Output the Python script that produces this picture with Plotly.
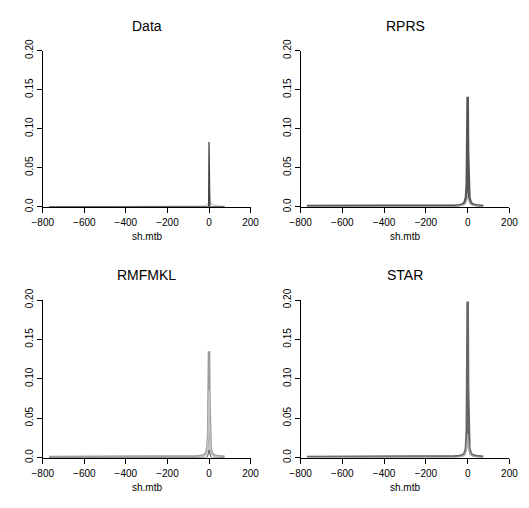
import plotly.graph_objects as go

# Shared horizontal grid (sh.mtb) at which every density curve is sampled
SH_MTB = [-770, -600, -400, -200, -100, -60, -40, -25, -15, -8, -4, -2, 0,
          2, 4, 8, 15, 25, 40, 60, 75]

# Observed data: a narrow dominant spike plus faint secondary spikes
DATA_MAIN = [0, 0, 0, 0, 0, 0, 0, 0, 0, 0, 0, 0, 0.083,
             0, 0, 0, 0, 0, 0, 0, 0]
DATA_MINOR = [0, 0, 0, 0, 0.0008, 0.001, 0.001, 0.0015, 0.002, 0.003, 0.004, 0.003, 0.004,
              0.003, 0.012, 0.004, 0.003, 0.002, 0.0015, 0.001, 0.0008]

# RPRS fitted densities
RPRS_MAIN = [0.0008, 0.0008, 0.0008, 0.0008, 0.001, 0.0015, 0.002, 0.003, 0.005, 0.012, 0.03, 0.07, 0.141,
             0.07, 0.03, 0.012, 0.005, 0.003, 0.002, 0.0015, 0.001]
RPRS_INNER = [0, 0, 0, 0, 0, 0.0005, 0.001, 0.002, 0.003, 0.006, 0.009, 0.011, 0.012,
              0.011, 0.009, 0.006, 0.003, 0.002, 0.001, 0.0005, 0]

# RMFMKL fitted densities
RMFMKL_MAIN = [0.0008, 0.0008, 0.0008, 0.0008, 0.001, 0.0015, 0.002, 0.003, 0.005, 0.012, 0.03, 0.07, 0.135,
               0.07, 0.03, 0.012, 0.005, 0.003, 0.002, 0.0015, 0.001]
RMFMKL_INNER = [0, 0, 0, 0, 0, 0.0005, 0.001, 0.002, 0.004, 0.01, 0.025, 0.05, 0.085,
                0.05, 0.025, 0.01, 0.004, 0.002, 0.001, 0.0005, 0]
RMFMKL_CORE = [0, 0, 0, 0, 0, 0, 0, 0, 0, 0.001, 0.003, 0.006, 0.01,
               0.006, 0.003, 0.001, 0, 0, 0, 0, 0]

# STAR fitted densities
STAR_MAIN = [0.0008, 0.0008, 0.0008, 0.0008, 0.001, 0.0015, 0.002, 0.003, 0.005, 0.012, 0.035, 0.09, 0.198,
             0.09, 0.035, 0.012, 0.005, 0.003, 0.002, 0.0015, 0.001]
STAR_INNER = [0, 0, 0, 0, 0, 0.0005, 0.001, 0.002, 0.004, 0.008, 0.015, 0.022, 0.03,
              0.022, 0.015, 0.008, 0.004, 0.002, 0.001, 0.0005, 0]

PANEL_TITLES = ["Data", "RPRS", "RMFMKL", "STAR"]
X_TICKS = [-800, -600, -400, -200, 0, 200]
Y_TICKS = [0.0, 0.05, 0.10, 0.15, 0.20]
Y_TICK_TEXT = ["0.0", "0.05", "0.10", "0.15", "0.20"]

W, H = 529, 508

# Plot-area boxes in pixels: (left, right, top, bottom)
boxes = [(33, 249, 40, 201.5), (301, 518, 40, 201.5),
         (33, 249, 298, 461), (301, 518, 298, 461)]

panel_traces = [
    [(DATA_MINOR, "#cccccc", 1.2), (DATA_MAIN, "#444444", 1.3)],
    [(RPRS_MAIN, "#555555", 2.6), (RPRS_INNER, "#aaaaaa", 1.2)],
    [(RMFMKL_MAIN, "#9c9c9c", 2.6), (RMFMKL_INNER, "#c4c4c4", 1.4), (RMFMKL_CORE, "#555555", 1.0)],
    [(STAR_MAIN, "#666666", 2.6), (STAR_INNER, "#aaaaaa", 1.2)],
]

fig = go.Figure()
FONT = "Liberation Sans, Arial, sans-serif"

for i, (box, traces) in enumerate(zip(boxes, panel_traces)):
    n = i + 1
    xa = "x" if n == 1 else f"x{n}"
    ya = "y" if n == 1 else f"y{n}"
    for yvals, color, width in traces:
        fig.add_trace(go.Scatter(x=SH_MTB, y=yvals, mode="lines",
                                 line=dict(color=color, width=width),
                                 xaxis=xa, yaxis=ya, showlegend=False,
                                 hoverinfo="skip"))
    left, right, top, bottom = box
    axis_common = dict(showline=True, linecolor="black", linewidth=1,
                       ticks="outside", ticklen=5, tickcolor="black", tickwidth=1,
                       showgrid=False, zeroline=False, layer="below traces",
                       tickfont=dict(family=FONT, size=10, color="black"))
    fig.layout[f"xaxis{'' if n == 1 else n}"] = dict(
        domain=[left / W, right / W], range=[-800, 200], anchor=ya,
        tickvals=X_TICKS, ticklabelstandoff=1, **axis_common)
    fig.layout[f"yaxis{'' if n == 1 else n}"] = dict(
        domain=[1 - bottom / H, 1 - top / H], range=[0, 0.2], anchor=xa,
        tickvals=Y_TICKS, ticktext=Y_TICK_TEXT, tickangle=-90, **axis_common)
    cx = (left + right) / 2
    fig.add_annotation(text=PANEL_TITLES[i], x=cx / W, y=1 - (top - 26) / H,
                       xref="paper", yref="paper", showarrow=False,
                       xanchor="center", yanchor="middle",
                       font=dict(family=FONT, size=14, color="black"))
    fig.add_annotation(text="sh.mtb", x=cx / W, y=1 - (bottom + 31) / H,
                       xref="paper", yref="paper", showarrow=False,
                       xanchor="center", yanchor="middle",
                       font=dict(family=FONT, size=10, color="black"))

fig.update_layout(width=W, height=H, margin=dict(l=0, r=0, t=0, b=0),
                  paper_bgcolor="white", plot_bgcolor="white")

fig.write_html("out.html")
